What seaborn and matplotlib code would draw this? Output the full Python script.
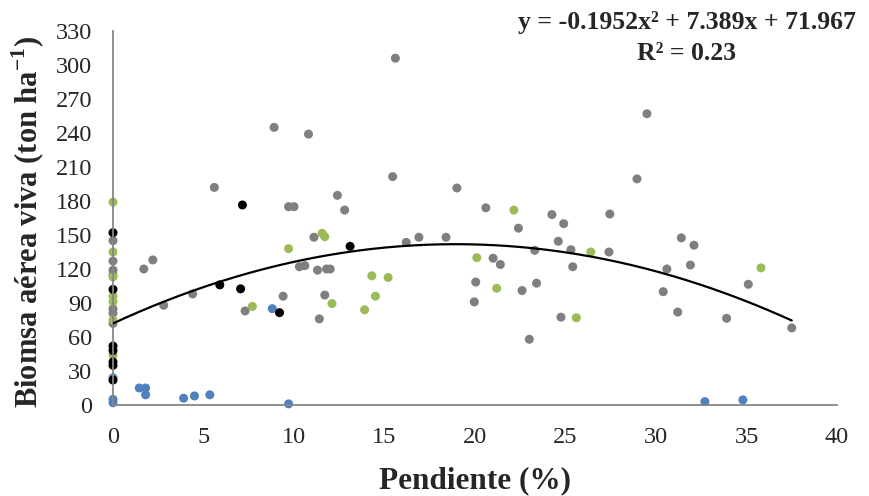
import numpy as np
import pandas as pd
import matplotlib
matplotlib.use("Agg")
import matplotlib.pyplot as plt
import seaborn as sns

# ---- data ----
gray_x = [0, 0, 0, 0, 0, 0, 0,
          1.7, 2.2, 2.8, 4.4, 5.6, 7.3, 8.9, 9.4, 9.7, 10.0, 10.3, 10.6, 10.8,
          11.1, 11.3, 11.4, 11.7, 11.8, 12.0, 12.4, 12.8, 15.45, 15.6, 16.2,
          16.9, 18.4, 19.0, 19.96, 20.04, 20.6, 21.0, 21.4, 22.4, 22.6, 23.0,
          23.3, 23.4, 24.25, 24.6, 24.75, 24.9, 25.3, 25.4, 27.4, 27.45, 28.95,
          29.5, 30.4, 30.6, 31.2, 31.4, 31.9, 32.1, 33.9, 35.1, 37.5]
gray_y = [145, 127, 119, 115, 85, 81, 72,
          120, 128, 88, 98, 192, 83, 245, 96, 175, 175, 122, 123, 239,
          148, 119, 76, 97, 120, 120, 185, 172, 201.5, 306, 143.5,
          148, 148, 191.5, 91, 108.5, 174, 129.5, 124, 156, 101, 58,
          136.5, 107.5, 168, 144.5, 77.5, 160, 137, 122, 135, 168.5, 199.5,
          257, 100, 120, 82, 147.5, 123.5, 141, 76.5, 106.5, 68]

blue_x = [0, 0, 0, 1.45, 1.8, 1.8, 3.9, 4.5, 5.35, 8.8, 9.7, 32.7, 34.8]
blue_y = [24, 5, 2, 15, 15, 9, 6, 8, 9, 85, 1, 3, 4.5]

green_x = [0, 0, 0, 0, 0, 0, 0,
           7.7, 9.7, 11.55, 11.7, 12.1, 13.9, 14.3, 14.5, 15.2, 20.1, 21.2,
           22.15, 25.6, 26.4, 35.8]
green_y = [179, 135, 113, 96, 91, 75, 44,
           87, 138, 151.5, 148.5, 89.5, 84, 114, 96, 112.5, 130, 103,
           172, 77, 135, 121]

black_x = [0, 0, 0, 0, 0, 0, 0, 5.9, 7.05, 7.15, 9.2, 13.1]
black_y = [152, 102, 52, 48, 38, 35, 22, 106, 102.5, 176.5, 81.5, 140]

# trendline shown on the chart: y = -0.1952x^2 + 7.389x + 71.967
trend_coef = [-0.1952, 7.389, 71.967]
trend_range = [0, 37.5]

x_ticks = [0, 5, 10, 15, 20, 25, 30, 35, 40]
y_ticks = [0, 30, 60, 90, 120, 150, 180, 210, 240, 270, 300, 330]

groups = ["gris", "azul", "verde", "negro"]
palette = {"gris": "#7F7F7F", "azul": "#4F81BD", "verde": "#9BBB59", "negro": "#000000"}

df = pd.concat([
    pd.DataFrame({"x": gray_x, "y": gray_y, "g": "gris"}),
    pd.DataFrame({"x": blue_x, "y": blue_y, "g": "azul"}),
    pd.DataFrame({"x": green_x, "y": green_y, "g": "verde"}),
    pd.DataFrame({"x": black_x, "y": black_y, "g": "negro"}),
], ignore_index=True)

sns.set_style("white")
plt.rcParams["font.family"] = ["Liberation Serif", "DejaVu Serif"]
plt.rcParams["mathtext.fontset"] = "custom"
plt.rcParams["mathtext.rm"] = "Liberation Serif"
plt.rcParams["mathtext.bf"] = "Liberation Serif:bold"

fig = plt.figure(figsize=(8.69, 4.96), dpi=100)
ax = fig.add_axes([113 / 869, 91 / 496, 724 / 869, 374 / 496])

sns.scatterplot(data=df, x="x", y="y", hue="g", hue_order=groups,
                palette=palette, s=42, linewidth=0, legend=False,
                clip_on=False, ax=ax, zorder=2)

xc = np.linspace(trend_range[0], trend_range[1], 200)
yc = np.polyval(trend_coef, xc)
sns.lineplot(x=xc, y=yc, color="black", linewidth=1.6, ax=ax, zorder=4)

ax.set_xlim(0, 40)
ax.set_ylim(0, 330)
ax.set_xticks(x_ticks)
ax.set_yticks(y_ticks)
ax.tick_params(axis="both", direction="out", length=4.5, width=1.2,
               color="#868686", labelsize=17.5)
ax.tick_params(axis="x", pad=11.5)
ax.tick_params(axis="y", pad=10.5)

for side in ["top", "right"]:
    ax.spines[side].set_visible(False)
for side in ["left", "bottom"]:
    ax.spines[side].set_color("#868686")
    ax.spines[side].set_linewidth(1.3)
    ax.spines[side].set_zorder(3)

ax.set_xlabel("Pendiente (%)", fontsize=22.5, fontweight="bold")
ax.set_ylabel(r"Biomsa aérea viva (ton ha$^{\mathbf{-1}}$)", fontsize=22,
              fontweight="bold")
ax.yaxis.set_label_coords(-0.091, 0.49)
ax.xaxis.set_label_coords(0.5, -0.165)

fig.text(687 / 869, 1 - 23 / 496, "y = -0.1952x² + 7.389x + 71.967",
         ha="center", va="center", fontsize=18.5, fontweight="bold")
fig.text(687 / 869, 1 - 53 / 496, "R² = 0.23",
         ha="center", va="center", fontsize=18.5, fontweight="bold")

fig.savefig("out.png", dpi=100)
